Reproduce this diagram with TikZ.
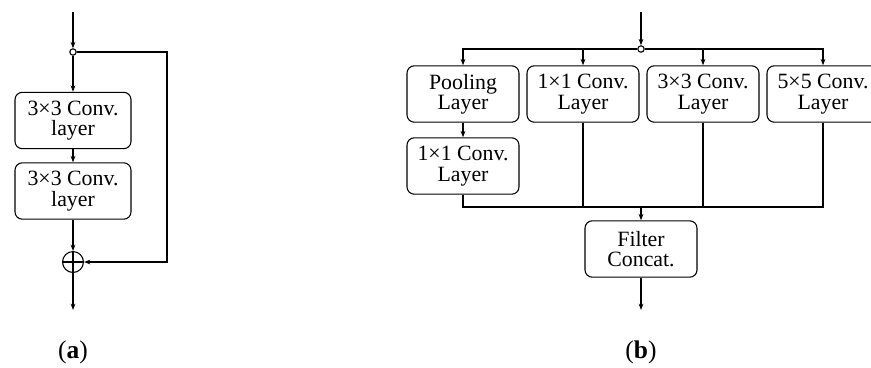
\documentclass[tikz,border=0pt]{standalone}
\usepackage{fontspec}
\setmainfont{Liberation Serif}
\usetikzlibrary{arrows.meta}
\tikzset{
  layer/.style={draw, rounded corners=4pt, align=center, inner sep=0pt,
    minimum width=61.6pt, minimum height=31pt, font=\fontsize{12}{11.2}\selectfont},
  tip/.style={-{Stealth[length=3.5pt,width=2.6pt]}},
  junc/.style={draw, circle, fill=white, inner sep=0pt, minimum size=3.5pt},
  plus/.style={draw, circle, inner sep=0pt, minimum size=11.5pt,
    path picture={\draw (path picture bounding box.north) -- (path picture bounding box.south)
      (path picture bounding box.west) -- (path picture bounding box.east);}},
  caption/.style={font=\fontsize{14}{16}\selectfont}
}
\begin{document}
\begin{tikzpicture}[x=0.55pt, y=-0.55pt, line width=0.6pt]
  \useasboundingbox (0,0) rectangle (871,367);

  % (a) residual block
  \coordinate (ain) at (73,12);
  \node[junc] (asplit) at (73,52) {};
  \node[layer, minimum width=63.8pt] (aconv1) at (73,120.5) {3×3 Conv.\\layer};
  \node[layer, minimum width=63.8pt] (aconv2) at (73,191) {3×3 Conv.\\layer};
  \node[plus] (add) at (73,262) {};
  \coordinate (askip) at (167,52);
  \coordinate (aout) at (73,310);
  \draw[tip] (ain) -- (asplit);
  \draw[tip] (asplit) -- (aconv1);
  \draw[tip] (aconv1) -- (aconv2);
  \draw[tip] (aconv2) -- (add);
  \draw[tip] (asplit) -- (askip) |- (add);
  \draw[tip] (add) -- (aout);
  \node[caption] (alabel) at (73,352) {(\textbf{a})};

  % (b) inception module
  \coordinate (bin) at (641,12);
  \node[junc] (bsplit) at (641,49) {};
  \node[layer] (pool) at (463,94) {Pooling\\Layer};
  \node[layer] (conv1) at (583,94) {1×1 Conv.\\Layer};
  \node[layer] (conv3) at (703,94) {3×3 Conv.\\Layer};
  \node[layer] (conv5) at (823,94) {5×5 Conv.\\Layer};
  \node[layer] (poolconv) at (463,166) {1×1 Conv.\\Layer};
  \coordinate (join) at (641,207);
  \node[layer] (concat) at (641,249) {Filter\\Concat.};
  \coordinate (bout) at (641,310);
  \draw[tip] (bin) -- (bsplit);
  \foreach \b in {pool,conv1,conv3,conv5}
    \draw[tip] (bsplit) -| (\b);
  \draw[tip] (pool) -- (poolconv);
  \foreach \b in {poolconv,conv1,conv3,conv5}
    \draw (\b) |- (join);
  \draw[tip] (join) -- (concat);
  \draw[tip] (concat) -- (bout);
  \node[caption] (blabel) at (641,352) {(\textbf{b})};
\end{tikzpicture}
\end{document}
